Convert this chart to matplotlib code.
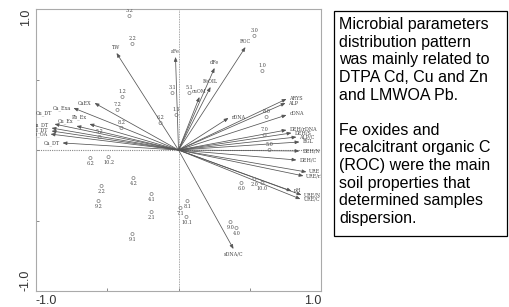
"""RDA biplot of microbial parameters vs soil properties, with a note box."""
import matplotlib
matplotlib.use("Agg")
import matplotlib.pyplot as plt

# arrows (environmental / response variables)
arrow_names = ["TW", "CaEX", "Ca_Exa", "Pb_Ex", "Cu_Ex", "Cu_DT", "Zn_DT", "Cd_DT",
               "Pb_OA", "Ca_DT", "aFe", "ROC", "dFe", "FeOIL", "cuOM", "rDNA",
               "ARYS", "ALP", "cDNA", "DEH/rDNA", "DEH/S", "ALP/C", "BGL",
               "DEH/N", "DEH/C", "URE", "URE/rDNA", "pH", "URE/N", "URE/C", "sDNA/C"]
arrow_x = [-0.435, -0.589, -0.737, -0.625, -0.716, -0.870, -0.891, -0.891,
           -0.898, -0.814, -0.021, 0.470, 0.253, 0.225, 0.147, 0.351,
           0.758, 0.751, 0.758, 0.758, 0.793, 0.828, 0.849,
           0.849, 0.828, 0.898, 0.877, 0.793, 0.863, 0.856, 0.386]
arrow_y = [0.688, 0.333, 0.298, 0.184, 0.170, 0.184, 0.156, 0.135,
           0.113, 0.050, 0.660, 0.730, 0.582, 0.447, 0.376, 0.227,
           0.362, 0.333, 0.248, 0.142, 0.121, 0.092, 0.057,
           -0.007, -0.071, -0.156, -0.184, -0.291, -0.319, -0.348, -0.702]

# samples
pt_labels = ["3.2", "2.2", "1.2", "7.2", "6.2", "8.2", "5.2", "3.0", "1.0", "3.1",
             "5.1", "1.1", "8.0", "7.0", "5.0", "2.0", "6.0", "10.0", "9.0", "4.0",
             "8.1", "7.1", "10.1", "4.1", "2.1", "6.2", "10.2", "4.2", "2.2", "9.2",
             "9.1"]
pt_x = [-0.344, -0.323, -0.393, -0.428, -0.126, -0.400, -0.554, 0.533, 0.589, -0.042,
        0.077, -0.014, 0.618, 0.604, 0.639, 0.533, 0.442, 0.589, 0.365, 0.407,
        0.063, 0.014, 0.056, -0.189, -0.189, -0.618, -0.491, -0.316, -0.540, -0.561,
        -0.323]
pt_y = [0.950, 0.752, 0.376, 0.284, 0.191, 0.156, 0.092, 0.809, 0.560, 0.404,
        0.404, 0.248, 0.234, 0.106, 0.0, -0.206, -0.234, -0.234, -0.511, -0.553,
        -0.362, -0.411, -0.475, -0.312, -0.440, -0.057, -0.050, -0.199, -0.255, -0.362,
        -0.596]

note = ("Microbial parameters\ndistribution pattern\nwas mainly related to\n"
        "DTPA Cd, Cu and Zn\nand LMWOA Pb.\n\nFe oxides and\n"
        "recalcitrant organic C\n(ROC) were the main\nsoil properties that\n"
        "determined samples\ndispersion.")


def spread(ys, gap):
    """push sorted label heights apart so they don't sit on each other"""
    order = sorted(range(len(ys)), key=lambda i: ys[i])
    out = list(ys)
    for a, b in zip(order[:-1], order[1:]):
        if out[b] - out[a] < gap:
            out[b] = out[a] + gap
    return out


fig = plt.figure(figsize=(5.09, 3.07), dpi=100)
ax = fig.add_axes([36 / 509, 1 - 291 / 307, (321 - 36) / 509, (291 - 9) / 307])

ax.axhline(0, color="#888888", lw=0.8, ls=(0, (1, 1)))
ax.axvline(0, color="#888888", lw=0.6, ls=(0, (1, 1)))

lab_kw = dict(fontsize=3.5, family="DejaVu Serif", color="#444444", clip_on=True)
side = {"left": [], "right": []}
for name, x, y in zip(arrow_names, arrow_x, arrow_y):
    ax.annotate("", xy=(x, y), xytext=(0, 0),
                arrowprops=dict(arrowstyle="-|>,head_length=0.25,head_width=0.1",
                                color="#555555", lw=0.55, shrinkA=0, shrinkB=0))
    if abs(y) > 1.2 * abs(x):
        va = "bottom" if y > 0 else "top"
        ax.text(x, y + (0.02 if y > 0 else -0.02), name, ha="center", va=va, **lab_kw)
    else:
        side["left" if x > 0 else "right"].append((name, x, y))

for ha, items in side.items():
    ys = spread([it[2] for it in items], 0.03)
    for (name, x, _), y in zip(items, ys):
        ax.text(x + (0.02 if ha == "left" else -0.02), y, name, ha=ha, va="center",
                **lab_kw)

ax.scatter(pt_x, pt_y, s=5, facecolors="none", edgecolors="#777777", lw=0.5, zorder=3)
for lab, x, y in zip(pt_labels, pt_x, pt_y):
    if y >= 0:
        ax.text(x, y + 0.02, lab, ha="center", va="bottom", **lab_kw)
    else:
        ax.text(x, y - 0.02, lab, ha="center", va="top", **lab_kw)

ax.set_xlim(-1, 1)
ax.set_ylim(-1, 1)
ax.set_xticks([-1, -0.5, 0, 0.5, 1])
ax.set_yticks([-1, -0.5, 0, 0.5, 1])
ax.set_xticklabels(["-1.0", "", "", "", "1.0"])
ax.set_yticklabels(["-1.0", "", "", "", "1.0"], rotation=90)
xl = ax.get_xticklabels()
xl[0].set_ha("left"); xl[-1].set_ha("right")
yl = ax.get_yticklabels()
yl[0].set_va("bottom"); yl[-1].set_va("top")
ax.tick_params(direction="in", length=2, width=0.6, color="#777777",
               labelsize=9, labelcolor="#333333", pad=3)
for lbl in xl + yl:
    lbl.set_family("Liberation Sans")
for sp in ax.spines.values():
    sp.set_color("#aaaaaa"); sp.set_linewidth(0.8)

# note box on the right
fig.patches.append(plt.Rectangle((334 / 509, 1 - 236 / 307), 173 / 509, 225 / 307,
                                 transform=fig.transFigure, fill=False,
                                 edgecolor="black", lw=0.9))
fig.text(339 / 509, 1 - 17 / 307, note, ha="left", va="top", fontsize=11.5,
         family="Liberation Sans", linespacing=1.22)

fig.savefig("out.png", dpi=100)
